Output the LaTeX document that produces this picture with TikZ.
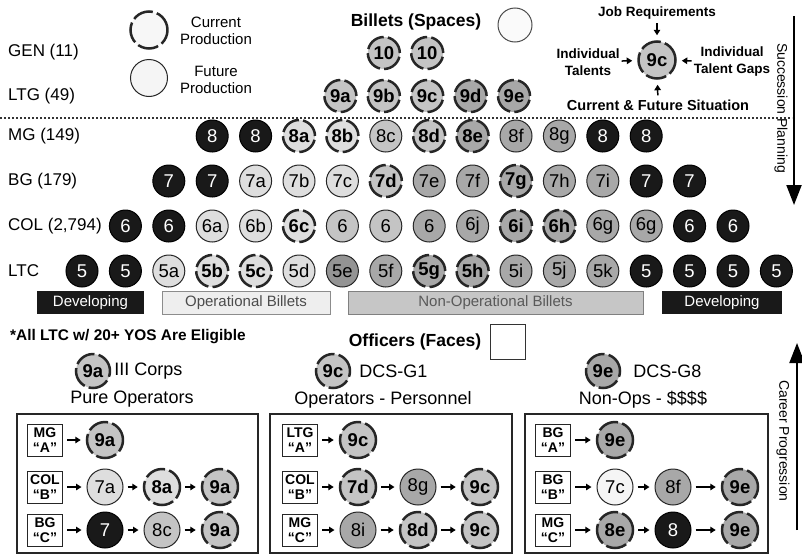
\documentclass[tikz,border=0pt]{standalone}
\usepackage{fontspec}
\setmainfont{Liberation Sans}
\usetikzlibrary{positioning, arrows.meta}

\definecolor{litefill}{gray}{0.87}
\definecolor{midlite}{gray}{0.77}
\definecolor{midfill}{gray}{0.66}
\definecolor{darkfill}{gray}{0.58}
\definecolor{devfill}{gray}{0.1}

\tikzset{
  billet/.style={circle, minimum size=32pt, inner sep=0pt, font=\fontsize{18.5}{18.5}\selectfont},
  cur/.style={billet, draw=black!85, line width=2.5pt, dash pattern=on 21pt off 4.2pt, font=\fontsize{18.5}{18.5}\selectfont\bfseries},
  fut/.style={billet, draw=black!85, line width=1pt},
  dev/.style={billet, draw=black, fill=devfill, text=white, line width=1pt},
  rowlab/.style={anchor=west, inner sep=0pt, font=\fontsize{17}{17}\selectfont},
  leglab/.style={align=center, inner sep=0pt, font=\fontsize{15}{17}\selectfont},
  bigtitle/.style={inner sep=0pt, font=\fontsize{17.5}{17.5}\selectfont\bfseries},
  jobtxt/.style={align=center, inner sep=1pt, font=\fontsize{13.5}{17}\selectfont\bfseries},
  bar/.style={minimum height=23pt, inner sep=0pt, font=\fontsize{15}{15}\selectfont},
  headlab/.style={inner sep=0pt, font=\fontsize{18}{18}\selectfont},
  panel/.style={draw=black!85, line width=1.6pt, minimum height=139pt, inner sep=0pt},
  rank/.style={draw=black!85, line width=1pt, minimum width=35pt, minimum height=32pt, inner sep=0pt, align=center, font=\fontsize{14}{15}\selectfont\bfseries},
  flow/.style={line width=1.5pt, -{Triangle[width=6.5pt,length=5.5pt]}, shorten <=4pt, shorten >=5pt},
  bigarrow/.style={line width=2pt, -{Triangle[width=15pt,length=20pt]}},
  sidelab/.style={rotate=-90, inner sep=0pt, font=\fontsize{14}{14}\selectfont},
  sepline/.style={line width=1.6pt, dash pattern=on 1.6pt off 2.4pt, black!80}
}

\begin{document}
\begin{tikzpicture}[x=1pt, y=-1pt]
\useasboundingbox (0,0) rectangle (802,557);

% legend
\node[cur, minimum size=37pt, fill=gray!6] (curleg) at (149,30) {};
\node[leglab] (curtxt) at (216,31) {Current\\Production};
\node[fut, minimum size=37pt, fill=gray!8] (futleg) at (149,78) {};
\node[leglab] (futtxt) at (216,80) {Future\\Production};
\node[bigtitle] (billets) at (416,22) {Billets (Spaces)};
\node[fut, minimum size=34pt, fill=gray!4, draw=black!70] (billetleg) at (515,25) {};

% rank labels
\node[rowlab] (genlab) at (8,52) {GEN (11)};
\node[rowlab] (ltglab) at (8,96) {LTG (49)};
\node[rowlab] (mglab) at (8,136) {MG (149)};
\node[rowlab] (bglab) at (8,181) {BG (179)};
\node[rowlab] (collab) at (8,226) {COL (2,794)};
\node[rowlab] (ltclab) at (8,271) {LTC};

% billets
\foreach \lab/\sty/\col [count=\k from 7] in {10/cur/midlite, 10/cur/midlite}
  \node[\sty, fill=\col] (gen\k) at ({80+43.4*\k},53) {\lab};
\foreach \lab/\sty/\col [count=\k from 6] in {9a/cur/midlite, 9b/cur/midlite, 9c/cur/midlite, 9d/cur/midfill, 9e/cur/midfill}
  \node[\sty, fill=\col] (ltg\k) at ({80+43.4*\k},96) {\lab};

\draw[sepline] (0,118) -- (792,118);

\foreach \lab/\sty/\col [count=\k from 3] in {8/dev/devfill, 8/dev/devfill, 8a/cur/litefill, 8b/cur/litefill, 8c/fut/midlite, 8d/cur/midlite, 8e/cur/midfill, 8f/fut/midfill, 8g/fut/midfill, 8/dev/devfill, 8/dev/devfill}
  \node[\sty, fill=\col] (mg\k) at ({82+43.4*\k},136) {\lab};
\foreach \lab/\sty/\col [count=\k from 2] in {7/dev/devfill, 7/dev/devfill, 7a/fut/litefill, 7b/fut/litefill, 7c/fut/litefill, 7d/cur/midlite, 7e/fut/midfill, 7f/fut/midfill, 7g/cur/midfill, 7h/fut/midfill, 7i/fut/midfill, 7/dev/devfill, 7/dev/devfill}
  \node[\sty, fill=\col] (bg\k) at ({82+43.4*\k},181) {\lab};
\foreach \lab/\sty/\col [count=\k from 1] in {6/dev/devfill, 6/dev/devfill, 6a/fut/litefill, 6b/fut/litefill, 6c/cur/litefill, 6/fut/midlite, 6/fut/midlite, 6/fut/midfill, 6j/fut/midfill, 6i/cur/midfill, 6h/cur/midfill, 6g/fut/midfill, 6g/fut/midfill, 6/dev/devfill, 6/dev/devfill}
  \node[\sty, fill=\col] (col\k) at ({82+43.4*\k},226) {\lab};
\foreach \lab/\sty/\col [count=\k from 0] in {5/dev/devfill, 5/dev/devfill, 5a/fut/litefill, 5b/cur/litefill, 5c/cur/litefill, 5d/fut/litefill, 5e/fut/darkfill, 5f/fut/midfill, 5g/cur/midfill, 5h/cur/midfill, 5i/fut/midfill, 5j/fut/midfill, 5k/fut/midfill, 5/dev/devfill, 5/dev/devfill, 5/dev/devfill, 5/dev/devfill}
  \node[\sty, fill=\col] (ltc\k) at ({82+43.4*\k},271) {\lab};

% billet types
\node[bar, minimum width=107pt, fill=devfill, text=white] (devleft) at (90.5,302.5) {Developing};
\node[bar, minimum width=168pt, fill=gray!13, draw=black!45, text=black!70] (opbar) at (246,302.5) {Operational Billets};
\node[bar, minimum width=295pt, fill=gray!45, draw=black!50, text=black!65] (nonopbar) at (495.5,302.5) {Non-Operational Billets};
\node[bar, minimum width=120pt, fill=devfill, text=white] (devright) at (722,302.5) {Developing};

% job model
\node[cur, minimum size=37pt, fill=midlite] (job9c) at (657,60) {9c};
\node[jobtxt] (jobreq) at (657,13) {Job Requirements};
\node[jobtxt] (talents) at (588,62) {Individual\\Talents};
\node[jobtxt] (gaps) at (732,62) {Individual\\Talent Gaps};
\node[jobtxt, font=\fontsize{14.5}{17}\selectfont\bfseries] (situation) at (658,105) {Current \& Future Situation};
\draw[flow, shorten <=3pt] (jobreq) -- (job9c);
\draw[flow, shorten <=1pt] (talents) -- (job9c);
\draw[flow, shorten <=1pt] (gaps) -- (job9c);
\draw[flow, shorten <=3pt] (situation) -- (job9c);

% side arrows
\coordinate (spTop) at (794,16);
\coordinate (spEnd) at (794,205);
\draw[bigarrow] (spTop) -- (spEnd);
\node[sidelab] (sptxt) at (781,108) {Succession Planning};
\coordinate (cpBot) at (797,530);
\coordinate (cpEnd) at (797,343);
\draw[bigarrow] (cpBot) -- (cpEnd);
\node[sidelab] (cptxt) at (783,441) {Career Progression};

% officers
\node[anchor=west, inner sep=0pt, font=\fontsize{15.4}{15.4}\selectfont\bfseries] (eligible) at (10,337) {*All LTC w/ 20+ YOS Are Eligible};
\node[bigtitle] (officers) at (415,342) {Officers (Faces)};
\node[draw=black!80, line width=1pt, minimum size=35pt, inner sep=0pt] (faceleg) at (508,342) {};

\node[cur, minimum size=34pt, fill=midlite] (hdpo) at (93,371) {9a};
\node[headlab, right=3pt of hdpo] (hdpotxt) {III Corps};
\node[cur, minimum size=34pt, fill=midlite] (hdpe) at (333,371) {9c};
\node[headlab, right=8pt of hdpe] (hdpetxt) {DCS-G1};
\node[cur, minimum size=34pt, fill=midfill] (hdno) at (603,371) {9e};
\node[headlab, right=12pt of hdno] (hdnotxt) {DCS-G8};
\node[headlab] (ttpo) at (132,399) {Pure Operators};
\node[headlab] (ttpe) at (383,400) {Operators - Personnel};
\node[headlab] (ttno) at (643,400) {Non-Ops - \$\$\$\$};

\node[panel, minimum width=241pt] (pobox) at (137.5,483.5) {};
\node[panel, minimum width=242pt] (pebox) at (391,483.5) {};
\node[panel, minimum width=243pt] (nobox) at (646.5,483.5) {};

% pure operators
\node[rank] (poA) at (45,440) {MG\\“A”};
\node[rank] (poB) at (45,487) {COL\\“B”};
\node[rank] (poC) at (45,530) {BG\\“C”};
\node[cur, minimum size=36pt, fill=midlite] (poA1) at (105,440) {9a};
\node[fut, minimum size=36pt, fill=litefill] (poB1) at (105,487) {7a};
\node[cur, minimum size=36pt, fill=litefill] (poB2) at (162,487) {8a};
\node[cur, minimum size=36pt, fill=midlite] (poB3) at (220,487) {9a};
\node[dev, minimum size=36pt] (poC1) at (105,530) {7};
\node[fut, minimum size=36pt, fill=midlite] (poC2) at (162,530) {8c};
\node[cur, minimum size=36pt, fill=midlite] (poC3) at (220,530) {9a};

% personnel
\node[rank] (peA) at (300,440) {LTG\\“A”};
\node[rank] (peB) at (300,487) {COL\\“B”};
\node[rank] (peC) at (300,530) {MG\\“C”};
\node[cur, minimum size=36pt, fill=midlite] (peA1) at (358,440) {9c};
\node[cur, minimum size=36pt, fill=midlite] (peB1) at (358,487) {7d};
\node[fut, minimum size=36pt, fill=midfill] (peB2) at (418,487) {8g};
\node[cur, minimum size=36pt, fill=midlite] (peB3) at (480,487) {9c};
\node[fut, minimum size=36pt, fill=midfill] (peC1) at (358,530) {8i};
\node[cur, minimum size=36pt, fill=midlite] (peC2) at (418,530) {8d};
\node[cur, minimum size=36pt, fill=midlite] (peC3) at (480,530) {9c};

% non-ops
\node[rank] (noA) at (553,440) {BG\\“A”};
\node[rank] (noB) at (553,487) {BG\\“B”};
\node[rank] (noC) at (553,530) {MG\\“C”};
\node[cur, minimum size=36pt, fill=midfill] (noA1) at (615,440) {9e};
\node[fut, minimum size=36pt, fill=gray!8] (noB1) at (615,487) {7c};
\node[fut, minimum size=36pt, fill=midfill] (noB2) at (673,487) {8f};
\node[cur, minimum size=36pt, fill=midfill] (noB3) at (740,487) {9e};
\node[cur, minimum size=36pt, fill=midfill] (noC1) at (615,530) {8e};
\node[dev, minimum size=36pt] (noC2) at (673,530) {8};
\node[cur, minimum size=36pt, fill=midfill] (noC3) at (740,530) {9e};

\foreach \a/\b in {poA/poA1, poB/poB1, poB1/poB2, poB2/poB3, poC/poC1, poC1/poC2, poC2/poC3,
                   peA/peA1, peB/peB1, peB1/peB2, peB2/peB3, peC/peC1, peC1/peC2, peC2/peC3,
                   noA/noA1, noB/noB1, noB1/noB2, noB2/noB3, noC/noC1, noC1/noC2, noC2/noC3}
  \draw[flow] (\a) -- (\b);
\end{tikzpicture}
\end{document}
